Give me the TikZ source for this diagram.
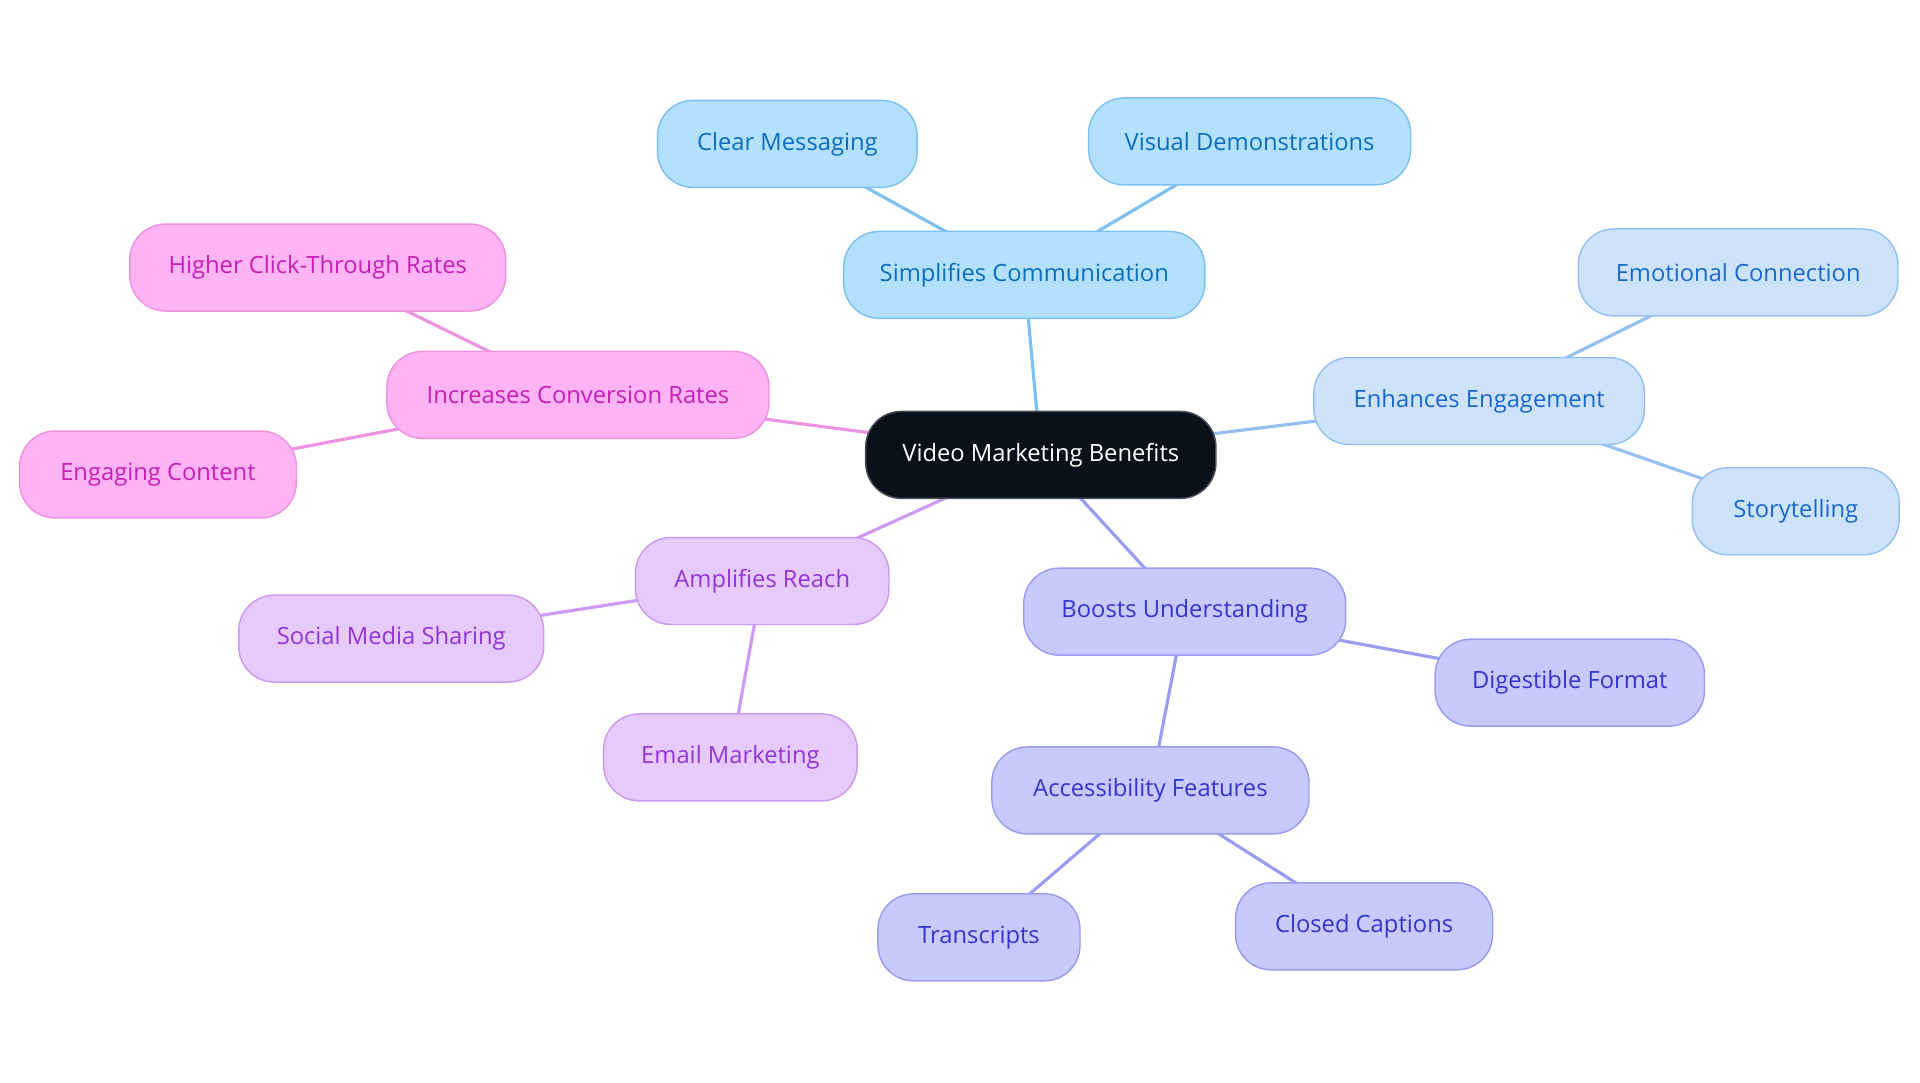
\documentclass[tikz,border=0pt]{standalone}
\usepackage{fontspec}
\setmainfont{Open Sans}
\usetikzlibrary{backgrounds}
\definecolor{cfill}{HTML}{0B111B}
\definecolor{cdraw}{HTML}{4A4D55}
\definecolor{afill}{HTML}{B3E0FD}\definecolor{adraw}{HTML}{7DC1F0}\definecolor{atext}{HTML}{0A6EBF}
\definecolor{bfill}{HTML}{CDE3FB}\definecolor{bdraw}{HTML}{95C0EF}\definecolor{btext}{HTML}{1A68CC}
\definecolor{ifill}{HTML}{C8C9FC}\definecolor{idraw}{HTML}{9A9CF0}\definecolor{itext}{HTML}{3535CC}
\definecolor{pfill}{HTML}{E7CAFC}\definecolor{pdraw}{HTML}{CC9AF0}\definecolor{ptext}{HTML}{9135D5}
\definecolor{kfill}{HTML}{FDB3F4}\definecolor{kdraw}{HTML}{EE92E2}\definecolor{ktext}{HTML}{C71FB5}
\tikzset{
  pill/.style={rectangle, rounded corners=14.5pt, minimum height=35.5pt, inner sep=0pt, line width=0.6pt, font=\fontsize{9.7}{12}\selectfont},
  w/.style={minimum width=#1*0.5pt},
  grpA/.style={pill, fill=afill, draw=adraw, text=atext},
  grpB/.style={pill, fill=bfill, draw=bdraw, text=btext},
  grpI/.style={pill, fill=ifill, draw=idraw, text=itext},
  grpP/.style={pill, fill=pfill, draw=pdraw, text=ptext},
  grpK/.style={pill, fill=kfill, draw=kdraw, text=ktext},
  root/.style={pill, fill=cfill, draw=cdraw, text=white},
  link/.style={line width=1.3pt},
}
\begin{document}
\begin{tikzpicture}[x=0.5pt,y=-0.5pt]
\useasboundingbox (0,0) rectangle (1568,884.45);
\node[root, w=286] (c) at (850,371.5) {Video Marketing Benefits};
\node[grpA, w=295] (sc) at (836.5,224.5) {Simplifies Communication};
\node[grpA, w=212] (cm) at (643,117.5) {Clear Messaging};
\node[grpA, w=263] (vd) at (1020.5,115.5) {Visual Demonstrations};
\node[grpB, w=270] (ee) at (1208,327.5) {Enhances Engagement};
\node[grpB, w=261] (ec) at (1419.5,222.5) {Emotional Connection};
\node[grpB, w=169] (st) at (1466.5,417.5) {Storytelling};
\node[grpI, w=263] (bu) at (967.5,499.5) {Boosts Understanding};
\node[grpI, w=220] (df) at (1282,557.5) {Digestible Format};
\node[grpI, w=259] (af) at (939.5,645.5) {Accessibility Features};
\node[grpI, w=165] (tr) at (799.5,765.5) {Transcripts};
\node[grpI, w=210] (cc) at (1114,756.5) {Closed Captions};
\node[grpP, w=207] (ar) at (622.5,474.5) {Amplifies Reach};
\node[grpP, w=249] (sm) at (319.5,521.5) {Social Media Sharing};
\node[grpP, w=207] (em) at (596.5,618.5) {Email Marketing};
\node[grpK, w=312] (ic) at (472,322.5) {Increases Conversion Rates};
\node[grpK, w=307] (hc) at (259.5,218.5) {Higher Click-Through Rates};
\node[grpK, w=226] (eg) at (129,387.5) {Engaging Content};
\begin{scope}[on background layer]
\draw[link, draw=adraw] (c.center) -- (sc.center);
\draw[link, draw=adraw] (sc.center) -- (cm.center);
\draw[link, draw=adraw] (sc.center) -- (vd.center);
\draw[link, draw=bdraw] (c.center) -- (ee.center);
\draw[link, draw=bdraw] (ee.center) -- (ec.center);
\draw[link, draw=bdraw] (ee.center) -- (st.center);
\draw[link, draw=idraw] (c.center) -- (bu.center);
\draw[link, draw=idraw] (bu.center) -- (df.center);
\draw[link, draw=idraw] (bu.center) -- (af.center);
\draw[link, draw=idraw] (af.center) -- (tr.center);
\draw[link, draw=idraw] (af.center) -- (cc.center);
\draw[link, draw=pdraw] (c.center) -- (ar.center);
\draw[link, draw=pdraw] (ar.center) -- (sm.center);
\draw[link, draw=pdraw] (ar.center) -- (em.center);
\draw[link, draw=kdraw] (c.center) -- (ic.center);
\draw[link, draw=kdraw] (ic.center) -- (hc.center);
\draw[link, draw=kdraw] (ic.center) -- (eg.center);
\end{scope}
\end{tikzpicture}
\end{document}
